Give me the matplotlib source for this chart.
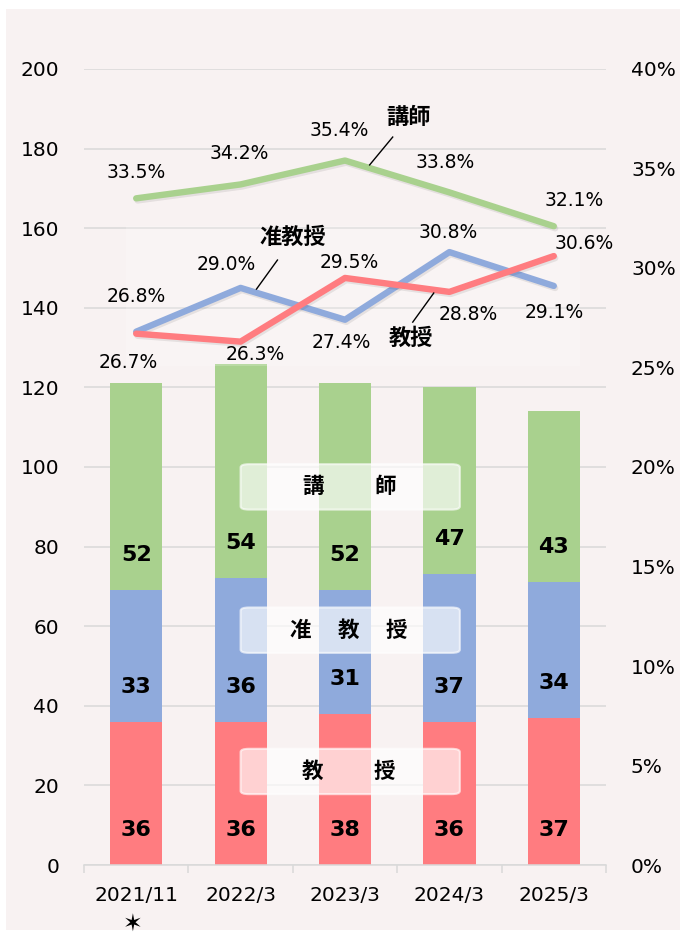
import matplotlib.pyplot as plt
import matplotlib.patheffects as pe
from matplotlib.patches import FancyBboxPatch, Rectangle
import numpy as np

plt.rcParams['font.family'] = ['DejaVu Sans', 'Noto Sans CJK JP']
JP = ['Noto Sans CJK JP', 'DejaVu Sans']

categories = ['2021/11', '2022/3', '2023/3', '2024/3', '2025/3']
kyoju = [36, 36, 38, 36, 37]        # 教授
junkyoju = [33, 36, 31, 37, 34]     # 准教授
koshi = [52, 54, 52, 47, 43]        # 講師

pct_kyoju = [26.7, 26.3, 29.5, 28.8, 30.6]
pct_junkyoju = [26.8, 29.0, 27.4, 30.8, 29.1]
pct_koshi = [33.5, 34.2, 35.4, 33.8, 32.1]

c_red = '#FF7C80'
c_blue = '#8FAADC'
c_green = '#A9D18E'
grid_c = '#D9D9D9'

fig = plt.figure(figsize=(6.88, 9.38), dpi=100)
fig.patch.set_facecolor('white')
fig.patches.append(Rectangle((6 / 688, 1 - 930 / 938), 674 / 688, 921 / 938,
                             transform=fig.transFigure, facecolor='#F8F2F2',
                             edgecolor='none', zorder=-10))

ax = fig.add_axes([84 / 688, 1 - 865 / 938, 522 / 688, 796 / 938])
ax.set_facecolor('none')
x = np.arange(len(categories))

b1 = np.array(kyoju)
b2 = np.array(junkyoju)
b3 = np.array(koshi)
ax.bar(x, b1, width=0.5, color=c_red, zorder=2)
ax.bar(x, b2, width=0.5, bottom=b1, color=c_blue, zorder=2)
ax.bar(x, b3, width=0.5, bottom=b1 + b2, color=c_green, zorder=2)

# labels at inside base of each segment
for bottoms, vals in [(np.zeros(5), b1), (b1, b2), (b1 + b2, b3)]:
    for i in range(5):
        ax.annotate(str(vals[i]), (x[i], bottoms[i]), xytext=(0, 35),
                    textcoords='offset pixels', ha='center', va='center',
                    fontsize=16, fontweight='bold', zorder=4)

ax.set_xlim(-0.5, 4.5)
ax.set_ylim(0, 200)
ax.set_yticks(range(0, 201, 20))
ax.yaxis.grid(True, color=grid_c, lw=1.1, zorder=0)
ax.set_axisbelow(True)
for s in ['top', 'left', 'right']:
    ax.spines[s].set_visible(False)
ax.spines['bottom'].set_color(grid_c)
ax.spines['bottom'].set_linewidth(1.1)
ax.set_xticks(x)
ax.set_xticklabels(categories, fontsize=14.5)
ax.set_xticks(np.arange(-0.5, 5, 1), minor=True)
ax.tick_params(axis='x', which='major', length=0, pad=15)
ax.tick_params(axis='x', which='minor', length=6, color=grid_c, width=1.1)
ax.tick_params(axis='y', length=0, pad=18, labelsize=14.5)

# star under first category
ax.text(-0.03, -15, '\u2736', ha='center', va='center', fontsize=17,
        family=['DejaVu Sans'], clip_on=False)

# label boxes over bars
box_specs = [
    (95, [(1.69, '講'), (2.38, '師')]),
    (59, [(1.574, '准'), (2.035, '教'), (2.495, '授')]),
    (23.5, [(1.69, '教'), (2.38, '授')]),
]
for yc, chars in box_specs:
    box = FancyBboxPatch((1.0, yc - 5.7), 2.1, 11.4,
                         boxstyle='round,pad=0,rounding_size=0.08',
                         mutation_aspect=10,
                         facecolor='white', alpha=0.65,
                         edgecolor='white', lw=1.5, zorder=5)
    ax.add_patch(box)
    for cx, ch in chars:
        ax.text(cx, yc, ch, ha='center', va='center', fontsize=15.5,
                fontweight='bold', family=JP, zorder=6)

# right axis lines
ax2 = ax.twinx()
ax2.set_ylim(0, 40)
ax2.set_yticks(range(0, 41, 5))
ax2.set_yticklabels([f'{v}%' for v in range(0, 41, 5)])
ax2.tick_params(axis='y', length=0, pad=18, labelsize=14.5)
for s in ax2.spines.values():
    s.set_visible(False)

ax2.add_patch(Rectangle((-0.1, 25.1), 4.35, 7.0, facecolor='white',
                        alpha=0.2, edgecolor='none', zorder=1))

shadow = [pe.SimpleLineShadow(offset=(1, -1.5), alpha=0.08), pe.Normal()]
for vals, col in [(pct_koshi, c_green), (pct_junkyoju, c_blue), (pct_kyoju, c_red)]:
    ax2.plot(x, vals, color=col, lw=4.6, solid_capstyle='round',
             solid_joinstyle='round', path_effects=shadow, zorder=3)

offs_koshi = [(0, 26), (-1, 31), (-6, 30), (-4, 30), (20, 26)]
offs_jun = [(0, 35), (-14, 23), (-4, -23), (-1, 20), (0, -27)]
offs_kyo = [(-8, -29), (15, -13), (4, 15), (19, -23), (30, 13)]
for vals, offs in [(pct_koshi, offs_koshi), (pct_junkyoju, offs_jun), (pct_kyoju, offs_kyo)]:
    for i, v in enumerate(vals):
        ax2.annotate(f'{v:.1f}%', (x[i], v), xytext=offs[i],
                     textcoords='offset pixels', ha='center', va='center',
                     fontsize=13.5, zorder=4)

# series names with leader lines (right-axis coords)
names = [
    ('講師', (2.61, 37.54), (2.457, 36.58), (2.236, 35.18)),
    ('准教授', (1.497, 31.56), (1.353, 30.4), (1.152, 28.94)),
    ('教授', (2.63, 26.48), (2.85, 28.74), (2.649, 27.28)),
]
for name, tpos, p1, p2 in names:
    ax2.text(tpos[0], tpos[1], name, ha='center', va='center', fontsize=16,
             fontweight='bold', family=JP, zorder=6)
    ax2.plot([p1[0], p2[0]], [p1[1], p2[1]], color='black', lw=1, zorder=6)

fig.savefig('out.png', dpi=100, facecolor=fig.get_facecolor())
